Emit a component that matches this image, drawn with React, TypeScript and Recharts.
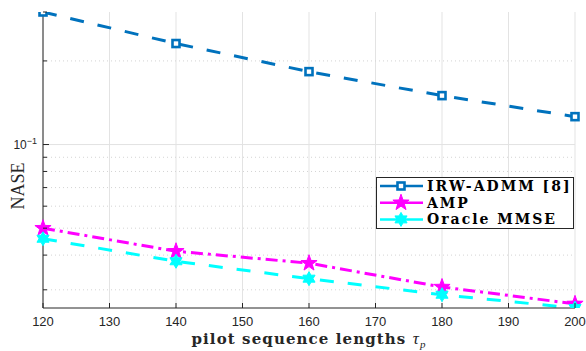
import React from 'react';
import { LineChart, Line, XAxis, YAxis, CartesianGrid, ReferenceLine, Label } from 'recharts';

const pilotLengths = [120, 140, 160, 180, 200];
const irwAdmm = [0.3, 0.231, 0.183, 0.150, 0.126];
const amp = [0.050, 0.0413, 0.0374, 0.0307, 0.0267];
const oracleMmse = [0.0458, 0.0380, 0.0329, 0.0288, 0.0258];
const xTicks = [120, 130, 140, 150, 160, 170, 180, 190, 200];
const yTicks = [0.03, 0.04, 0.05, 0.06, 0.07, 0.08, 0.09, 0.1, 0.2, 0.3];
const seriesNames = ['IRW-ADMM [8]', 'AMP', 'Oracle MMSE'];

const data = pilotLengths.map((x, i) => ({ x, irw: irwAdmm[i], amp: amp[i], oracle: oracleMmse[i] }));

const BLUE = '#0072BD';
const MAGENTA = '#FF00FF';
const CYAN = '#00FFFF';
const AXIS = '#262626';

function starPath(cx: number, cy: number, n: number, R: number, r: number) {
  let d = '';
  for (let i = 0; i < 2 * n; i++) {
    const rad = i % 2 === 0 ? R : r;
    const a = -Math.PI / 2 + (i * Math.PI) / n;
    d += (i === 0 ? 'M' : 'L') + (cx + rad * Math.cos(a)).toFixed(2) + ',' + (cy + rad * Math.sin(a)).toFixed(2);
  }
  return d + 'Z';
}

const SquareMark = ({ cx, cy }: any) => (
  <rect x={cx - 3.5} y={cy - 3.5} width={7} height={7} fill="#fff" stroke={BLUE} strokeWidth={2.6} />
);
const PentaMark = ({ cx, cy }: any) => (
  <path d={starPath(cx, cy, 5, 8.5, 3.4)} fill={MAGENTA} stroke={MAGENTA} strokeWidth={1} />
);
const HexaMark = ({ cx, cy }: any) => (
  <path d={starPath(cx, cy, 6, 7, 4)} fill={CYAN} stroke={CYAN} strokeWidth={1} />
);

const XTick = ({ x, y, payload }: any) => (
  <g>
    <line x1={x} y1={y} x2={x} y2={y - 5} stroke={AXIS} strokeWidth={1} />
    <text x={x} y={y + 18} textAnchor="middle" fontFamily="Liberation Sans" fontSize={13} fill={AXIS}>
      {payload.value}
    </text>
  </g>
);

const YTick = ({ x, y, payload }: any) => {
  const major = Math.abs(payload.value - 0.1) < 1e-9;
  return (
    <g>
      <line x1={x} y1={y} x2={x + (major ? 6 : 4)} y2={y} stroke={AXIS} strokeWidth={1} />
      {major && (
        <text x={x - 6} y={y + 4} textAnchor="end" fontFamily="Liberation Sans" fontSize={12} fill={AXIS}>
          <tspan>10</tspan>
          <tspan dy={-5} fontSize={9}>−1</tspan>
        </text>
      )}
    </g>
  );
};

const XLabel = ({ viewBox }: any) => {
  const cx = viewBox.x + viewBox.width / 2;
  return (
    <text x={cx} y={viewBox.y + 36} textAnchor="middle" fontFamily="DejaVu Serif" fontWeight="bold" fontSize={15} letterSpacing={1.1} fill={AXIS}>
      <tspan>pilot sequence lengths </tspan>
      <tspan fontFamily="Liberation Serif" fontStyle="italic" fontWeight="normal" fontSize={17}>τ</tspan>
      <tspan fontFamily="Liberation Serif" fontStyle="italic" fontWeight="normal" fontSize={11} dy={4}>p</tspan>
    </text>
  );
};

const YLabel = ({ viewBox }: any) => {
  const cy = viewBox.y + viewBox.height / 2 + 26;
  return (
    <text x={24} y={cy} transform={`rotate(-90 24 ${cy})`} textAnchor="middle" fontFamily="Liberation Serif" fontSize={18} fill={AXIS}>
      NASE
    </text>
  );
};

const legendItems = [
  { name: seriesNames[0], color: BLUE, mark: 'sq' },
  { name: seriesNames[1], color: MAGENTA, mark: 'penta' },
  { name: seriesNames[2], color: CYAN, mark: 'hexa' },
];

const LegendBox = () => (
  <svg width={199} height={53} style={{ display: 'block' }}>
    <rect x={0.5} y={0.5} width={197} height={51} fill="#fff" stroke={AXIS} strokeWidth={1} />
    {legendItems.map((it, i) => {
      const y = 9 + i * 16.7;
      return (
        <g key={it.name}>
          <line x1={4} y1={y} x2={47} y2={y} stroke={it.color} strokeWidth={2.5} />
          {it.mark === 'sq' && <SquareMark cx={25} cy={y} />}
          {it.mark === 'penta' && <PentaMark cx={25} cy={y} />}
          {it.mark === 'hexa' && <HexaMark cx={25} cy={y} />}
          <text x={51} y={y + 5} fontFamily="DejaVu Serif" fontWeight="bold" fontSize={14} letterSpacing={2} fill="#000">
            {it.name}
          </text>
        </g>
      );
    })}
  </svg>
);

export default function App() {
  return (
    <div style={{ position: 'absolute', left: 0, top: 0, width: 586, height: 351, background: '#fff' }}>
      <LineChart width={586} height={351} data={data} margin={{ top: 12, right: 11, bottom: 0, left: 0 }}>
        <CartesianGrid horizontal={false} vertical stroke="#e3e3e3" strokeWidth={1} />
        {yTicks.filter((v) => v !== 0.3).map((v) => (
          <ReferenceLine
            key={v}
            y={v}
            stroke={v === 0.1 ? '#e3e3e3' : '#d4d4d4'}
            strokeDasharray={v === 0.1 ? undefined : '1 3'}
            strokeWidth={1}
          />
        ))}
        <XAxis
          dataKey="x"
          type="number"
          domain={[120, 200]}
          ticks={xTicks}
          height={43}
          tickSize={0}
          tickMargin={0}
          tickLine={false}
          tick={<XTick />}
          axisLine={{ stroke: AXIS, strokeWidth: 1 }}
          interval={0}
        >
          <Label content={<XLabel />} />
        </XAxis>
        <XAxis
          xAxisId="t"
          dataKey="x"
          type="number"
          domain={[120, 200]}
          ticks={xTicks}
          orientation="top"
          height={0}
          mirror
          tick={false}
          tickSize={5}
          tickLine={{ stroke: AXIS }}
          axisLine={{ stroke: AXIS, strokeWidth: 1 }}
          interval={0}
        />
        <YAxis
          type="number"
          scale="log"
          domain={['dataMin', 'dataMax']}
          ticks={yTicks}
          width={43}
          tickSize={0}
          tickMargin={0}
          tickLine={false}
          tick={<YTick />}
          axisLine={{ stroke: AXIS, strokeWidth: 1 }}
          interval={0}
          allowDataOverflow
        >
          <Label content={<YLabel />} />
        </YAxis>
        <YAxis
          yAxisId="r"
          type="number"
          scale="log"
          domain={[oracleMmse[4], irwAdmm[0]]}
          ticks={yTicks}
          orientation="right"
          width={0}
          mirror
          tick={false}
          tickSize={4}
          tickLine={{ stroke: AXIS }}
          axisLine={{ stroke: AXIS, strokeWidth: 1 }}
          interval={0}
          allowDataOverflow
        />
        <Line dataKey="irw" name={seriesNames[0]} stroke={BLUE} strokeWidth={3} strokeDasharray="14 14" dot={<SquareMark />} isAnimationActive={false} />
        <Line dataKey="amp" name={seriesNames[1]} stroke={MAGENTA} strokeWidth={3} strokeDasharray="12 5 3 5" dot={<PentaMark />} isAnimationActive={false} />
        <Line dataKey="oracle" name={seriesNames[2]} stroke={CYAN} strokeWidth={3} strokeDasharray="14 14" dot={<HexaMark />} isAnimationActive={false} />
      </LineChart>
      <div style={{ position: 'absolute', left: 376, top: 177 }}>
        <LegendBox />
      </div>
    </div>
  );
}
